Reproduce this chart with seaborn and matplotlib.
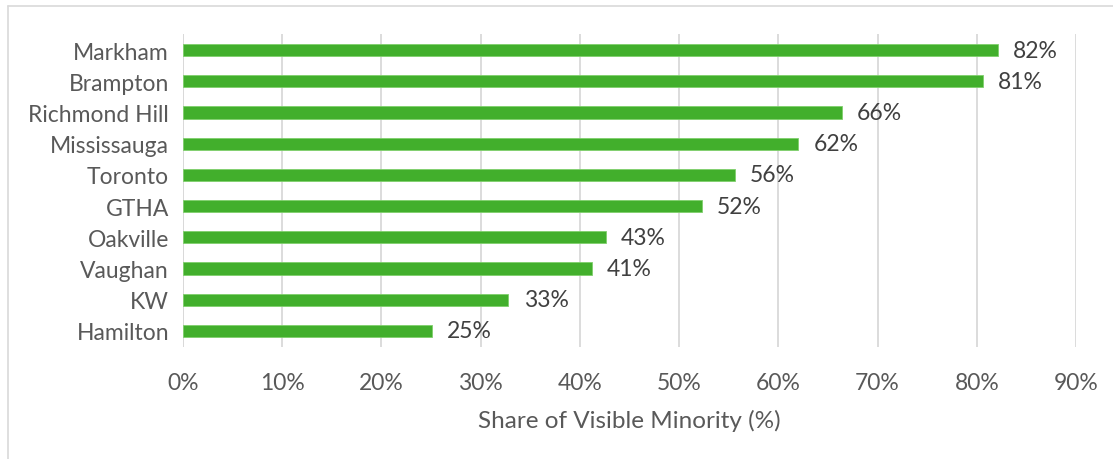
import matplotlib
matplotlib.use("Agg")
import matplotlib.pyplot as plt
from matplotlib.lines import Line2D
from matplotlib.ticker import FuncFormatter, MultipleLocator
import seaborn as sns
import pandas as pd

# Share of visible minority population by municipality (%)
cities = ["Markham", "Brampton", "Richmond Hill", "Mississauga", "Toronto",
          "GTHA", "Oakville", "Vaughan", "KW", "Hamilton"]
share = [82.1, 80.6, 66.4, 62.0, 55.6, 52.3, 42.6, 41.2, 32.8, 25.1]
x_label = "Share of Visible Minority (%)"

df = pd.DataFrame({"city": cities, "share": share})

sns.set_theme(style="white")
plt.rcParams["font.family"] = ["Lato", "DejaVu Sans"]

fig = plt.figure(figsize=(11.13, 4.60), dpi=100)
ax = fig.add_axes([183 / 1113, 1 - 347.6 / 460, (1076 - 183) / 1113, (347.6 - 35.4) / 460])

green = "#42AF2C"
sns.barplot(data=df, y="city", x="share", orient="h", color=green,
            width=0.39, saturation=1, edgecolor="#7fcf6c", linewidth=0.6, ax=ax)

ax.set_xlim(0, 90)
ax.xaxis.set_major_locator(MultipleLocator(10))
ax.xaxis.set_major_formatter(FuncFormatter(lambda v, p: f"{v:.0f}%"))
ax.grid(axis="x", color="#d9d9d9", linewidth=1.3)
ax.set_axisbelow(True)
for s in ax.spines.values():
    s.set_visible(False)
ax.axvline(0, color="#d9d9d9", linewidth=1.3, zorder=0.5)

ax.tick_params(axis="both", length=0)
ax.tick_params(axis="x", pad=18, labelsize=16.5, labelcolor="#595959")
ax.tick_params(axis="y", pad=10, labelsize=16.5, labelcolor="#595959")
ax.set_ylabel("")
ax.set_xlabel(x_label, fontsize=17.5, color="#595959", labelpad=12)

for cont in ax.containers:
    ax.bar_label(cont, labels=[f"{v:.0f}%" for v in share], padding=11,
                 fontsize=16.5, color="#404040")

# Light frame around the chart area
frame_kw = dict(color="#d9d9d9", linewidth=1.2, transform=fig.transFigure)
fig.add_artist(Line2D([8 / 1113, 1.02], [1 - 7 / 460, 1 - 7 / 460], **frame_kw))
fig.add_artist(Line2D([8 / 1113, 8 / 1113], [1 - 7 / 460, -0.02], **frame_kw))

fig.savefig("out.png", dpi=100, facecolor="white")
